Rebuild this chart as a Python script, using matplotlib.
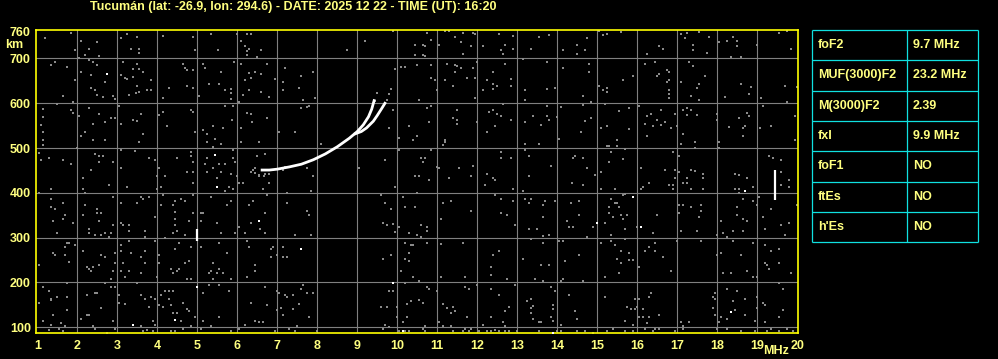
import matplotlib
matplotlib.use("Agg")
import matplotlib.pyplot as plt

# ionogram header / table values
title = "Tucumán (lat: -26.9, lon: 294.6) - DATE: 2025 12 22 - TIME (UT): 16:20"
param_names = ["foF2", "MUF(3000)F2", "M(3000)F2", "fxI", "foF1", "ftEs", "h'Es"]
param_values = ["9.7 MHz", "23.2 MHz", "2.39", "9.9 MHz", "NO", "NO", "NO"]

freq_ticks = list(range(1, 21))
height_ticks = [100, 200, 300, 400, 500, 600, 700, 760]
grid_mhz = list(range(2, 20))
grid_km = [100, 200, 300, 400, 500, 600, 700]

# F2 trace, ordinary and extraordinary branches (MHz, km)
trace_o_mhz = [6.62, 6.80, 7.00, 7.30, 7.60, 7.90, 8.20, 8.50, 8.80, 9.00, 9.15, 9.28, 9.36, 9.42]
trace_o_km = [451, 451, 453, 458, 464, 474, 487, 503, 522, 537, 552, 570, 587, 606]
trace_x_mhz = [8.95, 9.10, 9.23, 9.40, 9.50, 9.60, 9.69]
trace_x_km = [532, 537, 545, 560, 573, 587, 600]

# short bright echoes (MHz, km_low, km_high)
streak_mhz = [4.99, 19.43]
streak_lo = [292, 385]
streak_hi = [319, 452]

# isolated bright pixels
white_pts = [(2.73, 666), (5.43, 484), (5.48, 413), (6.53, 337), (3.38, 106), (4.43, 116),
             (4.98, 190), (7.58, 275), (9.88, 198), (10.13, 91), (18.68, 404), (15.88, 390),
             (14.98, 333), (16.08, 324), (18.33, 134), (13.88, 88)]

# background noise, 1-7 MHz, upper half
noise_a = [(1.83, 758), (1.18, 745), (3.23, 755), (3.48, 749), (4.13, 751), (4.88, 749), (5.33, 754),
           (5.98, 754), (6.23, 754), (6.33, 754), (2.08, 740), (2.48, 736), (2.28, 722), (1.93, 718),
           (2.18, 707), (2.03, 702), (2.53, 705), (3.08, 745), (3.33, 722), (3.53, 721), (3.53, 713),
           (4.93, 718), (5.52, 718), (6.08, 740), (6.18, 727), (6.28, 722), (6.23, 716), (6.58, 718),
           (6.48, 704), (6.25, 707), (1.43, 693), (1.33, 685), (1.75, 681), (2.08, 670), (2.30, 697),
           (2.38, 693), (2.48, 685), (2.68, 648), (2.35, 663), (1.95, 652), (2.33, 634), (2.43, 630),
           (2.48, 618), (2.63, 615), (2.90, 616), (2.93, 610), (1.63, 616), (1.88, 603), (1.48, 599),
           (3.13, 693), (3.48, 688), (3.38, 676), (3.53, 676), (3.63, 669), (3.10, 663), (3.20, 657),
           (3.23, 654), (3.40, 658), (3.83, 652), (3.50, 639), (3.30, 619), (3.47, 622), (3.55, 625),
           (3.75, 630), (3.85, 630), (4.13, 612), (4.28, 634), (4.63, 688), (4.68, 678), (4.73, 675),
           (4.88, 675), (4.73, 639), (4.88, 634), (5.03, 616), (5.13, 688), (5.18, 679), (5.58, 670),
           (5.28, 643), (5.53, 643), (5.70, 630), (5.83, 633), (5.83, 622), (5.83, 609), (5.92, 693),
           (6.08, 687), (6.28, 667), (6.43, 670), (6.58, 666), (6.18, 652), (6.33, 657), (6.30, 630),
           (6.13, 619), (6.58, 625), (6.78, 615), (6.93, 655), (6.73, 688), (7.18, 679), (7.13, 648),
           (7.13, 630), (6.03, 603), (1.15, 588), (1.13, 569), (1.08, 552), (1.13, 536), (1.13, 518),
           (1.13, 507), (1.83, 585), (1.88, 578), (2.28, 590), (2.03, 572), (2.53, 576), (2.38, 554),
           (2.70, 558), (2.83, 567), (2.93, 567), (2.18, 536), (2.08, 527), (2.38, 518), (2.68, 518),
           (2.00, 500), (3.03, 593), (3.08, 554), (3.38, 563), (3.48, 561), (3.60, 576), (3.63, 531),
           (3.53, 513), (4.05, 573), (4.15, 581), (4.23, 549), (4.83, 585), (4.88, 581), (4.93, 536),
           (5.13, 540), (5.23, 531), (5.38, 549), (5.63, 545), (5.87, 563), (5.88, 594), (5.68, 593),
           (5.23, 513), (5.43, 521), (5.58, 509), (6.23, 579), (6.33, 576), (6.37, 558), (6.73, 567),
           (6.55, 513), (6.08, 545), (6.08, 513), (7.03, 536), (1.03, 488), (1.08, 473), (1.28, 478),
           (1.63, 473), (1.83, 464), (2.43, 487), (2.53, 482), (2.63, 482), (2.53, 469), (2.88, 469),
           (2.33, 451), (2.13, 433), (3.08, 496), (3.08, 455), (3.43, 493), (3.78, 478), (3.93, 473),
           (4.03, 455), (4.18, 437), (3.98, 437), (4.48, 478), (4.83, 491), (4.83, 482), (4.88, 469),
           (4.88, 446), (4.73, 446), (5.18, 464), (5.23, 478), (5.38, 502), (5.53, 464), (5.38, 455),
           (5.23, 446), (5.48, 433), (5.58, 446), (5.68, 464), (5.88, 496), (5.88, 478), (5.93, 469),
           (5.83, 442), (6.00, 437), (6.48, 482), (6.68, 487), (6.43, 455), (6.53, 437), (6.67, 437),
           (6.38, 452), (6.80, 442), (7.13, 452), (7.18, 458), (6.35, 446), (6.45, 444), (6.55, 440),
           (6.70, 442), (6.90, 450)]

# background noise, 7-13.5 MHz, upper half
noise_b = [(9.20, 740), (8.73, 718), (9.88, 761), (10.73, 758), (10.83, 742), (10.45, 731), (10.63, 731),
           (10.68, 727), (11.03, 731), (11.18, 761), (11.28, 761), (11.43, 749), (11.63, 757), (11.88, 757),
           (11.93, 754), (11.58, 736), (11.83, 727), (11.63, 709), (12.13, 727), (12.53, 754), (12.88, 751),
           (12.68, 731), (12.58, 718), (12.63, 709), (12.88, 721), (13.33, 722), (13.53, 749), (10.45, 707),
           (10.68, 705), (10.63, 707), (9.93, 676), (10.08, 682), (10.18, 682), (10.48, 685), (10.83, 685),
           (11.23, 687), (11.43, 685), (11.48, 684), (11.58, 678), (11.43, 670), (11.88, 679), (11.98, 693),
           (12.38, 669), (12.68, 688), (13.13, 699), (10.83, 657), (10.93, 652), (11.18, 651), (11.38, 639),
           (11.73, 657), (11.93, 657), (12.23, 652), (12.38, 643), (12.48, 639), (12.38, 631), (12.13, 630),
           (12.83, 655), (12.83, 639), (13.18, 630), (7.58, 661), (7.88, 670), (7.53, 634), (7.63, 607),
           (7.93, 612), (7.58, 590), (7.73, 591), (7.78, 594), (7.43, 536), (9.50, 622), (9.83, 631),
           (9.78, 621), (9.73, 607), (9.43, 606), (9.88, 585), (9.78, 545), (10.98, 630), (10.53, 607),
           (10.73, 590), (10.83, 594), (10.78, 558), (10.28, 549), (10.03, 522), (10.48, 527), (10.38, 518),
           (10.03, 496), (11.13, 506), (11.18, 518), (11.18, 513), (11.48, 585), (11.38, 567), (11.48, 563),
           (11.48, 554), (11.93, 612), (11.98, 558), (12.28, 581), (12.38, 585), (12.48, 576), (12.58, 572),
           (12.83, 563), (12.43, 549), (12.23, 536), (12.63, 599), (13.18, 607), (13.18, 558), (13.38, 572),
           (13.58, 552), (13.53, 509), (13.18, 509), (8.08, 509), (9.03, 455), (9.68, 473), (7.88, 437),
           (7.73, 455), (10.58, 478), (10.68, 478), (10.63, 469), (10.83, 496), (10.98, 458), (11.03, 455),
           (10.43, 437), (10.53, 437), (10.78, 428), (11.28, 433), (11.53, 455), (11.88, 460), (11.83, 437),
           (12.23, 442), (12.38, 433), (12.43, 428), (12.58, 491), (12.58, 478), (12.83, 478), (13.18, 496),
           (13.28, 482), (13.28, 437)]

# background noise, 13.5-20 MHz, upper half
noise_c = [(13.78, 752), (14.48, 731), (14.73, 745), (14.13, 718), (14.48, 709), (14.68, 718), (15.03, 761),
           (15.13, 752), (15.23, 754), (15.58, 760), (16.53, 727), (16.63, 722), (16.23, 709), (17.08, 754),
           (17.23, 758), (17.18, 745), (17.38, 730), (17.38, 718), (17.53, 760), (17.78, 749), (17.73, 713),
           (18.03, 736), (18.23, 740), (18.38, 749), (18.48, 740), (18.48, 727), (18.33, 704), (18.58, 704),
           (18.98, 731), (19.53, 758), (19.73, 761), (19.83, 722), (13.73, 693), (14.13, 679), (14.78, 688),
           (14.78, 670), (13.73, 633), (13.93, 634), (14.63, 616), (14.83, 603), (15.03, 639), (15.13, 630),
           (15.23, 634), (15.23, 625), (15.63, 652), (15.88, 660), (16.18, 688), (16.43, 693), (16.53, 666),
           (16.48, 661), (16.73, 675), (16.78, 670), (16.78, 652), (16.73, 648), (16.78, 630), (16.78, 621),
           (16.78, 612), (17.08, 648), (17.28, 693), (17.38, 684), (17.68, 661), (17.53, 643), (17.48, 634),
           (17.33, 616), (17.53, 607), (18.18, 615), (18.58, 643), (18.83, 637), (18.78, 621), (19.08, 612),
           (19.68, 639), (19.73, 603), (19.98, 637), (13.73, 594), (13.73, 572), (13.78, 563), (14.08, 592),
           (13.98, 570), (14.63, 596), (14.68, 561), (14.83, 567), (14.58, 536), (14.03, 521), (15.18, 599),
           (15.53, 583), (15.78, 590), (15.23, 549), (15.08, 545), (15.78, 543), (15.48, 518), (15.48, 504),
           (15.23, 504), (15.28, 504), (16.03, 595), (16.23, 572), (16.33, 576), (16.58, 585), (16.48, 563),
           (16.18, 554), (16.38, 549), (16.58, 552), (16.68, 558), (16.83, 545), (16.93, 576), (16.98, 549),
           (16.25, 526), (17.13, 585), (17.23, 590), (17.33, 585), (17.23, 574), (17.48, 574), (17.13, 531),
           (17.08, 509), (17.43, 513), (17.43, 500), (17.98, 575), (17.98, 563), (18.03, 513), (18.03, 500),
           (18.28, 548), (18.53, 567), (18.63, 545), (18.68, 549), (18.63, 527), (18.73, 578), (18.78, 572),
           (19.07, 545), (19.13, 594), (19.33, 549), (19.93, 572), (19.93, 518), (13.83, 460), (14.43, 482),
           (14.38, 478), (14.63, 478), (14.73, 455), (14.93, 440), (15.08, 446), (15.28, 469), (15.33, 491),
           (15.63, 476), (15.68, 498), (16.08, 455), (16.68, 451), (16.88, 491), (16.93, 451), (17.03, 482),
           (16.93, 433), (17.03, 446), (17.23, 433), (17.33, 451), (17.43, 449), (17.63, 442), (17.63, 433),
           (18.43, 442), (18.53, 440), (18.73, 433), (19.28, 482), (19.38, 478), (19.58, 473), (19.58, 446),
           (19.78, 428), (19.43, 405)]

# background noise, 1-7 MHz, lower half
noise_d = [(1.33, 409), (2.13, 409), (2.78, 418), (3.23, 413), (3.98, 409), (4.08, 413), (4.88, 422),
           (5.68, 405), (5.78, 413), (6.03, 422), (6.13, 422), (6.63, 409), (6.78, 422), (1.03, 400),
           (2.18, 400), (1.33, 387), (1.63, 378), (1.33, 369), (1.43, 364), (2.18, 373), (2.48, 364),
           (2.48, 355), (2.58, 355), (1.68, 351), (1.63, 342), (1.38, 337), (1.88, 333), (2.13, 351),
           (2.53, 337), (2.88, 391), (2.88, 328), (2.28, 319), (2.28, 310), (1.48, 310), (2.43, 306),
           (2.58, 306), (2.68, 310), (2.83, 310), (2.78, 302), (3.08, 378), (3.08, 333), (3.13, 328),
           (3.28, 328), (3.28, 315), (3.48, 378), (3.58, 391), (3.63, 387), (3.78, 391), (3.68, 315),
           (3.68, 302), (3.93, 346), (4.08, 373), (4.13, 396), (4.38, 373), (4.43, 382), (4.58, 387),
           (4.68, 382), (4.43, 358), (4.43, 342), (4.43, 328), (4.38, 310), (4.48, 315), (4.88, 355),
           (4.78, 337), (4.88, 396), (4.68, 306), (5.08, 355), (5.13, 355), (5.08, 337), (5.33, 391),
           (5.48, 333), (5.58, 310), (5.73, 373), (5.83, 382), (5.88, 409), (5.93, 310), (6.03, 324),
           (6.18, 310), (6.28, 373), (6.38, 382), (6.33, 333), (6.57, 319), (6.68, 355), (6.73, 396),
           (6.68, 310), (7.23, 400), (7.23, 378), (1.73, 288), (1.78, 288), (1.93, 284), (1.68, 279),
           (1.38, 266), (1.43, 261), (1.68, 261), (1.78, 245), (1.03, 239), (2.13, 270), (2.58, 261),
           (2.68, 257), (2.53, 239), (2.23, 234), (2.28, 230), (2.38, 234), (2.33, 225), (2.93, 266),
           (2.93, 243), (2.88, 225), (2.83, 207), (3.08, 270), (3.08, 284), (3.28, 293), (3.33, 266),
           (3.13, 243), (3.08, 225), (3.18, 212), (3.28, 225), (3.58, 257), (3.68, 270), (3.68, 243),
           (3.58, 221), (3.93, 293), (3.98, 212), (4.03, 261), (4.03, 243), (4.18, 300), (4.33, 230),
           (4.38, 221), (4.48, 225), (4.53, 230), (4.53, 288), (4.43, 275), (4.68, 243), (4.78, 248),
           (4.73, 207), (4.83, 207), (4.83, 279), (5.08, 279), (5.38, 243), (5.28, 221), (5.33, 225),
           (5.48, 221), (5.53, 230), (5.63, 221), (5.38, 207), (5.53, 288), (5.73, 266), (5.83, 207),
           (6.23, 293), (6.28, 279), (6.23, 212), (6.43, 239), (6.43, 225), (6.88, 279), (6.83, 275),
           (6.83, 257), (6.98, 261), (7.13, 279), (7.13, 257), (7.23, 257), (1.13, 191), (1.28, 181),
           (1.33, 163), (1.33, 160), (1.48, 167), (1.73, 167), (1.73, 198), (1.73, 139), (1.03, 154),
           (1.38, 128), (1.13, 113), (1.33, 106), (1.58, 109), (1.68, 102), (1.28, 94), (1.53, 96),
           (1.63, 92), (2.23, 172), (2.43, 176), (2.48, 176), (2.58, 142), (2.23, 127), (2.28, 128),
           (2.08, 119), (2.38, 102), (2.43, 97), (2.73, 88), (2.83, 191), (2.93, 190), (2.68, 198),
           (3.03, 172), (3.03, 155), (3.18, 151), (2.88, 115), (2.93, 97), (3.48, 198), (3.58, 172),
           (3.68, 163), (3.83, 167), (3.93, 163), (3.78, 145), (3.88, 115), (3.93, 106), (3.73, 95),
           (3.58, 102), (3.63, 92), (3.88, 92), (4.08, 172), (4.03, 149), (4.13, 145), (4.18, 181),
           (4.28, 181), (4.38, 181), (4.28, 163), (4.33, 149), (4.38, 131), (4.48, 131), (4.58, 115),
           (4.63, 154), (4.78, 136), (4.73, 140), (4.93, 122), (4.83, 102), (4.63, 96), (4.33, 92),
           (4.43, 92), (5.08, 97), (5.13, 176), (5.28, 194), (5.53, 194), (5.78, 181), (5.13, 115),
           (5.53, 122), (5.33, 102), (6.33, 154), (6.73, 149), (6.68, 190), (6.98, 181), (7.03, 176),
           (7.08, 142), (7.18, 173), (7.23, 167), (7.13, 128), (6.98, 139), (6.43, 115), (6.53, 111),
           (6.63, 111), (6.03, 97), (6.18, 106), (6.93, 92), (7.28, 97), (5.83, 92)]

# background noise, 7-13.5 MHz, lower half
noise_e = [(7.83, 405), (9.93, 413), (10.48, 400), (12.18, 418), (12.88, 409), (13.13, 405), (9.58, 396),
           (9.68, 378), (9.83, 363), (10.18, 369), (10.43, 369), (10.13, 391), (11.13, 378), (11.33, 382),
           (11.83, 360), (12.43, 396), (12.58, 387), (12.88, 382), (12.58, 355), (12.73, 351), (13.18, 387),
           (13.33, 387), (13.28, 378), (13.63, 373), (13.63, 346), (7.73, 360), (7.78, 351), (7.43, 306),
           (7.83, 306), (9.63, 333), (9.73, 328), (9.88, 330), (9.93, 312), (10.03, 324), (10.28, 310),
           (10.48, 306), (10.58, 328), (10.58, 302), (10.73, 324), (10.73, 315), (11.08, 342), (12.93, 328),
           (13.28, 319), (13.48, 319), (13.33, 297), (13.63, 304), (10.18, 288), (10.33, 284), (10.38, 284),
           (10.73, 288), (11.08, 285), (11.63, 288), (9.83, 261), (9.63, 252), (10.28, 266), (10.18, 252),
           (10.28, 248), (10.08, 225), (10.38, 212), (10.53, 203), (10.18, 198), (11.08, 212), (11.68, 212),
           (12.38, 261), (12.53, 270), (12.33, 234), (12.33, 216), (12.73, 207), (13.13, 252), (13.63, 288),
           (13.58, 239), (13.43, 207), (13.63, 203), (7.63, 194), (7.58, 185), (7.73, 176), (7.88, 176),
           (7.38, 172), (7.53, 151), (7.38, 140), (7.78, 124), (7.48, 102), (7.43, 92), (7.98, 92),
           (9.78, 181), (9.88, 181), (9.58, 146), (9.73, 146), (9.98, 146), (9.98, 124), (9.68, 106),
           (9.78, 100), (9.63, 97), (10.13, 111), (10.23, 122), (10.23, 151), (10.33, 158), (10.53, 161),
           (10.63, 155), (10.73, 190), (10.78, 185), (10.98, 181), (10.68, 102), (10.63, 97), (11.13, 151),
           (11.23, 142), (11.38, 145), (11.43, 137), (11.33, 133), (11.13, 102), (11.03, 111), (11.33, 102),
           (11.68, 190), (11.78, 185), (11.73, 124), (11.98, 194), (12.13, 106), (12.33, 185), (12.33, 124),
           (12.53, 172), (12.68, 136), (12.78, 146), (12.63, 111), (12.68, 102), (12.93, 194), (13.23, 158),
           (13.33, 163), (13.33, 142), (13.38, 148), (13.33, 133), (13.38, 119), (13.53, 111), (13.58, 111),
           (10.03, 92), (10.18, 92), (10.28, 92), (10.68, 92), (11.38, 92), (11.63, 92), (11.78, 92),
           (12.03, 92), (12.23, 92), (12.33, 92), (12.43, 94), (12.53, 92), (12.68, 92), (12.78, 92),
           (12.98, 92), (13.53, 92), (11.68, 97), (11.83, 97)]

# background noise, 13.5-20 MHz, lower half
noise_f = [(14.37, 422), (14.63, 418), (15.08, 409), (15.43, 409), (16.08, 409), (16.13, 413), (16.28, 422),
           (16.78, 418), (16.88, 418), (16.88, 409), (17.13, 422), (17.23, 422), (17.33, 409), (17.63, 409),
           (18.43, 409), (18.53, 409), (18.53, 400), (18.88, 413), (19.58, 418), (19.78, 413), (15.63, 396),
           (15.33, 387), (15.43, 378), (15.48, 378), (15.28, 369), (15.53, 369), (15.68, 397), (14.53, 382),
           (14.33, 378), (14.53, 351), (13.93, 382), (13.68, 382), (15.28, 355), (15.38, 346), (15.58, 351),
           (15.73, 351), (15.63, 342), (15.18, 333), (14.88, 324), (15.98, 324), (15.68, 319), (14.28, 324),
           (14.38, 324), (14.23, 337), (13.78, 306), (14.73, 302), (15.33, 306), (15.68, 297), (16.38, 311),
           (16.48, 351), (17.03, 373), (17.13, 373), (17.03, 355), (17.33, 369), (17.58, 373), (17.58, 360),
           (17.53, 346), (17.48, 315), (17.08, 315), (17.98, 306), (18.13, 311), (18.23, 302), (18.38, 315),
           (18.63, 315), (18.48, 369), (18.48, 351), (18.63, 342), (18.73, 337), (18.63, 387), (18.88, 382),
           (18.98, 373), (19.03, 391), (19.13, 346), (19.18, 319), (19.33, 364), (19.58, 328), (19.68, 306),
           (19.78, 333), (19.98, 373), (18.08, 337), (14.03, 293), (14.13, 293), (14.53, 261), (14.18, 248),
           (13.78, 239), (15.08, 288), (15.33, 293), (15.43, 284), (15.58, 270), (15.78, 266), (15.48, 252),
           (15.58, 243), (15.78, 251), (15.88, 251), (15.53, 221), (15.18, 212), (14.63, 203), (16.03, 234),
           (16.18, 270), (16.28, 279), (16.43, 288), (16.43, 270), (16.63, 257), (16.83, 225), (16.98, 293),
           (17.58, 293), (17.98, 261), (18.08, 266), (18.38, 293), (18.58, 261), (18.88, 288), (19.18, 284),
           (19.33, 270), (19.53, 275), (19.18, 243), (19.23, 239), (19.28, 230), (19.53, 243), (19.83, 221),
           (18.13, 221), (18.33, 221), (18.73, 225), (18.88, 212), (18.98, 212), (19.53, 199), (19.63, 185),
           (13.83, 190), (13.93, 181), (14.08, 203), (14.13, 208), (14.28, 172), (13.88, 149), (13.88, 140),
           (14.43, 136), (14.48, 119), (13.83, 124), (13.88, 115), (14.08, 106), (15.18, 167), (15.73, 145),
           (15.83, 140), (15.93, 140), (15.98, 145), (15.93, 163), (16.03, 163), (15.68, 115), (15.88, 106),
           (16.03, 124), (16.13, 140), (16.13, 122), (16.28, 122), (16.23, 109), (16.33, 176), (16.28, 167),
           (16.53, 127), (16.43, 97), (17.08, 111), (17.28, 111), (17.13, 102), (17.88, 167), (17.93, 176),
           (17.93, 163), (17.88, 142), (17.93, 127), (18.03, 111), (18.08, 122), (18.23, 185), (18.38, 158),
           (18.43, 139), (18.23, 118), (18.48, 181), (18.68, 163), (18.68, 127), (18.93, 115), (18.98, 167),
           (18.98, 142), (19.13, 154), (19.18, 149), (19.53, 122), (19.63, 139), (19.18, 111), (13.98, 92),
           (14.08, 92), (14.48, 92), (14.68, 92), (14.88, 88), (15.23, 92), (15.38, 97), (15.68, 92),
           (15.88, 92), (16.18, 97), (16.38, 92), (16.53, 97), (16.93, 92), (17.13, 97), (17.98, 97),
           (18.23, 97), (18.58, 92), (18.93, 92), (19.23, 92), (19.33, 97), (19.53, 92), (19.73, 97),
           (19.88, 92)]

text_yellow = "#ffff80"
frame_yellow = "#ffff00"
grid_gray = "#808080"
noise_gray = "#8a8a8a"
cyan = "#10e0e0"
font = {"family": "Liberation Sans", "weight": "bold", "size": 9}

fig = plt.figure(figsize=(9.98, 3.59), dpi=100, facecolor="black")
ax = fig.add_axes([0.0358, 0.0716, 0.7635, 0.8462], facecolor="black")
ax.set_xlim(0.96, 20.01)
ax.set_ylim(86.6, 764.7)

for f in grid_mhz:
    ax.axvline(f, color=grid_gray, lw=0.8, zorder=1)
for h in grid_km:
    ax.axhline(h, color=grid_gray, lw=0.8, zorder=1)

for pts in [noise_a, noise_b, noise_c, noise_d, noise_e, noise_f]:
    ax.plot([p[0] for p in pts], [p[1] for p in pts], ls="none", marker="s",
            ms=1.7, mew=0, color=noise_gray, zorder=2)

ax.plot([p[0] for p in white_pts], [p[1] for p in white_pts], ls="none", marker="s",
        ms=1.9, mew=0, color="white", zorder=3)
ax.vlines(streak_mhz, streak_lo, streak_hi, color="white", lw=1.6, zorder=3)

ax.plot(trace_o_mhz, trace_o_km, color="white", lw=2.0, zorder=4)
ax.plot(trace_x_mhz, trace_x_km, color="white", lw=2.0, zorder=4)

ax.set_xticks(freq_ticks)
ax.set_xticklabels([str(f) for f in freq_ticks], fontdict=font)
ax.set_yticks(height_ticks)
ax.set_yticklabels([str(h) for h in height_ticks], fontdict=font)
ax.tick_params(axis="both", length=0, colors=text_yellow)
ax.tick_params(axis="x", pad=5)
ax.tick_params(axis="y", pad=3.5)
for s in ax.spines.values():
    s.set_color(frame_yellow)
    s.set_linewidth(1.2)

fig.text(14 / 998, 1 - 45 / 359, "km", ha="center", va="center", color=text_yellow, **font)
fig.text(776 / 998, 1 - 351 / 359, "MHz", ha="center", va="center", color=text_yellow, **font)
fig.text(90 / 998, 1 - 7 / 359, title, ha="left", va="center", color=text_yellow, **font)

# parameter table
tax = fig.add_axes([0.8139, 0.3251, 0.1657, 0.5914])
tax.set_xlim(0, 1)
tax.set_ylim(len(param_names), 0)
tax.axis("off")
tax.hlines(range(len(param_names) + 1), 0, 1, color=cyan, lw=0.9, clip_on=False)
tax.vlines([0, 0.574, 1], 0, len(param_names), color=cyan, lw=0.9, clip_on=False)
for i, (name, val) in enumerate(zip(param_names, param_values)):
    tax.text(0.033, i + 0.5, name, ha="left", va="center", color=text_yellow, **font)
    tax.text(0.607, i + 0.5, val, ha="left", va="center", color=text_yellow, **font)

fig.savefig("out.png", dpi=100, facecolor="black")
